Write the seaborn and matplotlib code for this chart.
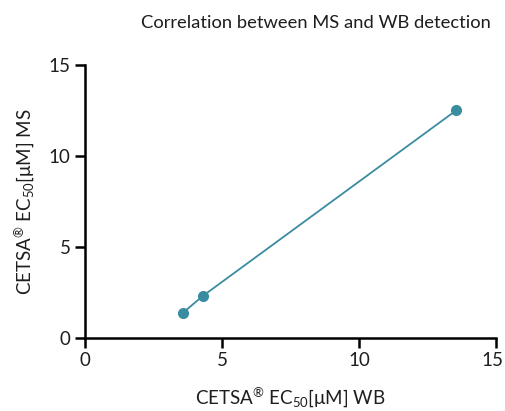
import matplotlib
matplotlib.use("Agg")
import matplotlib.pyplot as plt
import matplotlib.transforms as mtransforms
import seaborn as sns
import pandas as pd

wb_ec50 = [3.57, 4.3, 13.55]
ms_ec50 = [1.37, 2.3, 12.5]
ticks = [0, 5, 10, 15]
title = "Correlation between MS and WB detection"
xlabel = "CETSA$^{®}$ EC$_{50}$[μM] WB"
ylabel = "CETSA$^{®}$ EC$_{50}$[μM] MS"

sns.set_theme(style="ticks")
plt.rcParams['font.family'] = ['Lato', 'DejaVu Sans']
plt.rcParams['mathtext.fontset'] = 'custom'
plt.rcParams['mathtext.rm'] = 'Lato'
plt.rcParams['mathtext.it'] = 'Lato'
plt.rcParams['mathtext.default'] = 'regular'

df = pd.DataFrame({"wb": wb_ec50, "ms": ms_ec50})
color = "#3a8ca0"
tc = "#1e1e1e"

fig = plt.figure(figsize=(5.06, 4.11), dpi=100)
ax = fig.add_axes([0.168, 0.178, 0.812, 0.664])
sns.lineplot(data=df, x="wb", y="ms", ax=ax, color=color, lw=1.3,
             marker="o", markersize=8, markeredgewidth=0, sort=True)
ax.set_xlim(0, 15)
ax.set_ylim(0, 15)
ax.set_xticks(ticks)
ax.set_yticks(ticks)
ax.set_xticklabels([str(t) for t in ticks])
ax.set_yticklabels([str(t) for t in ticks])
ax.tick_params(labelsize=13.5, width=1.8, length=7, color="black", labelcolor=tc)
for s in ["left", "bottom"]:
    ax.spines[s].set_linewidth(1.8)
    ax.spines[s].set_color("black")
sns.despine(ax=ax)
last = ax.get_xticklabels()[-1]
last.set_transform(last.get_transform() + mtransforms.ScaledTranslation(-3/100, 0, fig.dpi_scale_trans))
ax.set_xlabel(xlabel, fontsize=13.5, color=tc, labelpad=12)
ax.set_ylabel(ylabel, fontsize=13.5, color=tc, labelpad=8)
fig.text(0.624, 0.945, title, ha="center", va="center", fontsize=13.2, color=tc)
fig.savefig("out.png", dpi=100)
